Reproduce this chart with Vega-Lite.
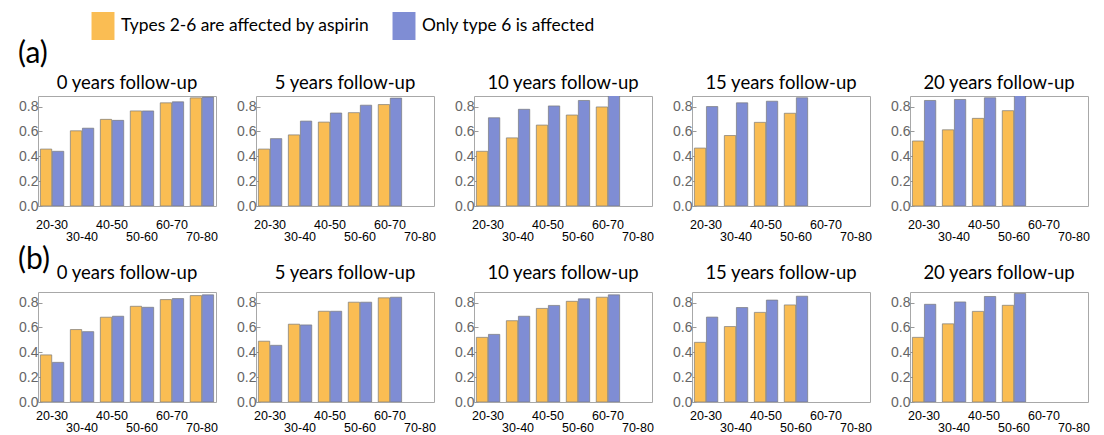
{
  "$schema": "https://vega.github.io/schema/vega-lite/v6.json",
  "padding": {"left": 18, "top": 12, "right": 6, "bottom": 4},
  "background": "white",
  "config": {
    "view": {"stroke": "#a8a8a8", "strokeWidth": 1},
    "font": "Lato",
    "axis": {"grid": false, "title": null},
    "axisY": {"values": [0, 0.2, 0.4, 0.6, 0.8], "format": ".1f", "labelColor": "#666666", "labelFont": "Liberation Sans", "labelFontSize": 14, "labelPadding": 4, "domain": false, "tickSize": -4, "tickColor": "#999999"},
    "axisX": {"labelAngle": 0, "labelColor": "black", "labelFont": "Liberation Sans", "labelFontSize": 12.5, "domain": false, "ticks": false, "labelBaseline": "top"},
    "header": {"title": null, "labelFontSize": 18.5, "labelFont": "Lato", "labelColor": "black", "labelPadding": 6},
    "title": {"font": "Lato", "fontSize": 30, "fontWeight": "normal", "anchor": "start", "color": "black"}
  },
  "data": {"values": [
    {"row": "a", "fu": "0 years follow-up", "age": "20-30", "t26": 0.458, "t6": 0.44},
    {"row": "a", "fu": "0 years follow-up", "age": "30-40", "t26": 0.605, "t6": 0.626},
    {"row": "a", "fu": "0 years follow-up", "age": "40-50", "t26": 0.697, "t6": 0.689},
    {"row": "a", "fu": "0 years follow-up", "age": "50-60", "t26": 0.765, "t6": 0.765},
    {"row": "a", "fu": "0 years follow-up", "age": "60-70", "t26": 0.83, "t6": 0.838},
    {"row": "a", "fu": "0 years follow-up", "age": "70-80", "t26": 0.87, "t6": 0.876},
    {"row": "a", "fu": "5 years follow-up", "age": "20-30", "t26": 0.458, "t6": 0.542},
    {"row": "a", "fu": "5 years follow-up", "age": "30-40", "t26": 0.572, "t6": 0.683},
    {"row": "a", "fu": "5 years follow-up", "age": "40-50", "t26": 0.675, "t6": 0.748},
    {"row": "a", "fu": "5 years follow-up", "age": "50-60", "t26": 0.751, "t6": 0.811},
    {"row": "a", "fu": "5 years follow-up", "age": "60-70", "t26": 0.816, "t6": 0.868},
    {"row": "a", "fu": "10 years follow-up", "age": "20-30", "t26": 0.44, "t6": 0.71},
    {"row": "a", "fu": "10 years follow-up", "age": "30-40", "t26": 0.548, "t6": 0.778},
    {"row": "a", "fu": "10 years follow-up", "age": "40-50", "t26": 0.651, "t6": 0.805},
    {"row": "a", "fu": "10 years follow-up", "age": "50-60", "t26": 0.732, "t6": 0.849},
    {"row": "a", "fu": "10 years follow-up", "age": "60-70", "t26": 0.797, "t6": 0.89},
    {"row": "a", "fu": "15 years follow-up", "age": "20-30", "t26": 0.466, "t6": 0.8},
    {"row": "a", "fu": "15 years follow-up", "age": "30-40", "t26": 0.567, "t6": 0.83},
    {"row": "a", "fu": "15 years follow-up", "age": "40-50", "t26": 0.673, "t6": 0.843},
    {"row": "a", "fu": "15 years follow-up", "age": "50-60", "t26": 0.746, "t6": 0.871},
    {"row": "a", "fu": "20 years follow-up", "age": "20-30", "t26": 0.523, "t6": 0.849},
    {"row": "a", "fu": "20 years follow-up", "age": "30-40", "t26": 0.613, "t6": 0.857},
    {"row": "a", "fu": "20 years follow-up", "age": "40-50", "t26": 0.705, "t6": 0.871},
    {"row": "a", "fu": "20 years follow-up", "age": "50-60", "t26": 0.767, "t6": 0.89},
    {"row": "b", "fu": "0 years follow-up", "age": "20-30", "t26": 0.379, "t6": 0.319},
    {"row": "b", "fu": "0 years follow-up", "age": "30-40", "t26": 0.583, "t6": 0.566},
    {"row": "b", "fu": "0 years follow-up", "age": "40-50", "t26": 0.682, "t6": 0.69},
    {"row": "b", "fu": "0 years follow-up", "age": "50-60", "t26": 0.77, "t6": 0.762},
    {"row": "b", "fu": "0 years follow-up", "age": "60-70", "t26": 0.824, "t6": 0.832},
    {"row": "b", "fu": "0 years follow-up", "age": "70-80", "t26": 0.856, "t6": 0.862},
    {"row": "b", "fu": "5 years follow-up", "age": "20-30", "t26": 0.489, "t6": 0.456},
    {"row": "b", "fu": "5 years follow-up", "age": "30-40", "t26": 0.626, "t6": 0.62},
    {"row": "b", "fu": "5 years follow-up", "age": "40-50", "t26": 0.73, "t6": 0.73},
    {"row": "b", "fu": "5 years follow-up", "age": "50-60", "t26": 0.803, "t6": 0.803},
    {"row": "b", "fu": "5 years follow-up", "age": "60-70", "t26": 0.838, "t6": 0.843},
    {"row": "b", "fu": "10 years follow-up", "age": "20-30", "t26": 0.52, "t6": 0.544},
    {"row": "b", "fu": "10 years follow-up", "age": "30-40", "t26": 0.654, "t6": 0.69},
    {"row": "b", "fu": "10 years follow-up", "age": "40-50", "t26": 0.753, "t6": 0.777},
    {"row": "b", "fu": "10 years follow-up", "age": "50-60", "t26": 0.81, "t6": 0.83},
    {"row": "b", "fu": "10 years follow-up", "age": "60-70", "t26": 0.843, "t6": 0.862},
    {"row": "b", "fu": "15 years follow-up", "age": "20-30", "t26": 0.48, "t6": 0.683},
    {"row": "b", "fu": "15 years follow-up", "age": "30-40", "t26": 0.607, "t6": 0.76},
    {"row": "b", "fu": "15 years follow-up", "age": "40-50", "t26": 0.721, "t6": 0.82},
    {"row": "b", "fu": "15 years follow-up", "age": "50-60", "t26": 0.781, "t6": 0.851},
    {"row": "b", "fu": "20 years follow-up", "age": "20-30", "t26": 0.52, "t6": 0.786},
    {"row": "b", "fu": "20 years follow-up", "age": "30-40", "t26": 0.629, "t6": 0.805},
    {"row": "b", "fu": "20 years follow-up", "age": "40-50", "t26": 0.729, "t6": 0.849},
    {"row": "b", "fu": "20 years follow-up", "age": "50-60", "t26": 0.778, "t6": 0.873}
  ]},
  "transform": [{"fold": ["t26", "t6"], "as": ["s", "v"]}],
  "spacing": 2,
  "vconcat": [
    {
      "transform": [{"filter": "datum.row == 'a'"}],
      "title": {"text": "(a)", "offset": 4},
      "facet": {"field": "fu", "type": "nominal", "sort": ["0 years follow-up", "5 years follow-up", "10 years follow-up", "15 years follow-up", "20 years follow-up"], "header": {"labelPadding": 4}},
      "columns": 5,
      "spacing": {"column": 18},
      "resolve": {"axis": {"x": "independent", "y": "independent"}},
      "spec": {
        "width": 178,
        "height": 110,
        "mark": {"type": "bar", "stroke": "#7a7a7a", "strokeWidth": 0.7, "clip": true},
        "encoding": {
          "x": {"field": "age", "type": "nominal", "scale": {"domain": ["20-30", "30-40", "40-50", "50-60", "60-70", "70-80"], "paddingInner": 0.22, "paddingOuter": 0.08},
                "axis": {"labelPadding": {"condition": {"test": "indexof(['30-40','50-60','70-80'], datum.value) >= 0", "value": 24}, "value": 12}}},
          "xOffset": {"field": "s", "type": "nominal", "scale": {"domain": ["t26", "t6"], "paddingInner": 0.06}},
          "y": {"field": "v", "type": "quantitative", "scale": {"domain": [0, 0.885], "nice": false, "zero": true}},
          "color": {"field": "s", "type": "nominal", "scale": {"domain": ["t26", "t6"], "range": ["#FABD53", "#7F8DD4"]},
                    "legend": {"title": null, "orient": "none", "direction": "horizontal", "legendX": 51, "legendY": -84, "symbolType": "M-0.82,-1H0.82V1H-0.82Z", "symbolSize": 784, "symbolStrokeWidth": 0, "symbolOpacity": 1, "labelFont": "Lato", "labelFontSize": 17.4, "labelColor": "black", "labelOffset": 4, "columnPadding": 20, "labelLimit": 400,
                               "labelExpr": "datum.value == 't26' ? 'Types 2-6 are affected by aspirin' : 'Only type 6 is affected'"}}
        }
      }
    },
    {
      "transform": [{"filter": "datum.row == 'b'"}],
      "title": {"text": "(b)", "offset": -12},
      "facet": {"field": "fu", "type": "nominal", "sort": ["0 years follow-up", "5 years follow-up", "10 years follow-up", "15 years follow-up", "20 years follow-up"], "header": {"labelPadding": 10}},
      "columns": 5,
      "spacing": {"column": 18},
      "resolve": {"axis": {"x": "independent", "y": "independent"}},
      "spec": {
        "width": 178,
        "height": 110,
        "mark": {"type": "bar", "stroke": "#7a7a7a", "strokeWidth": 0.7, "clip": true},
        "encoding": {
          "x": {"field": "age", "type": "nominal", "scale": {"domain": ["20-30", "30-40", "40-50", "50-60", "60-70", "70-80"], "paddingInner": 0.22, "paddingOuter": 0.08},
                "axis": {"labelPadding": {"condition": {"test": "indexof(['30-40','50-60','70-80'], datum.value) >= 0", "value": 19}, "value": 7}}},
          "xOffset": {"field": "s", "type": "nominal", "scale": {"domain": ["t26", "t6"], "paddingInner": 0.06}},
          "y": {"field": "v", "type": "quantitative", "scale": {"domain": [0, 0.885], "nice": false, "zero": true}},
          "color": {"field": "s", "type": "nominal", "scale": {"domain": ["t26", "t6"], "range": ["#FABD53", "#7F8DD4"]}}
        }
      }
    }
  ]
}
